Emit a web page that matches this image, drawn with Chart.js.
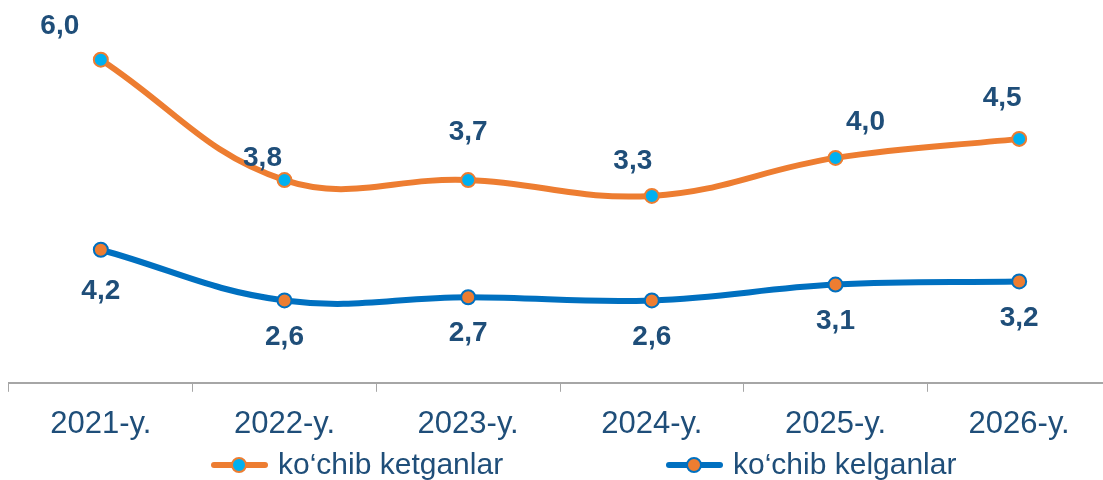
<!DOCTYPE html>
<html>
<head>
<meta charset="utf-8">
<script src="https://cdn.jsdelivr.net/npm/chart.js@4/dist/chart.umd.min.js"></script>
<style>
  html, body { margin: 0; padding: 0; background: #fff; overflow: hidden; }
  #clip { width: 1103px; height: 480px; overflow: hidden; position: relative; }
  #lineChart { display: block; position: absolute; left: 0; top: 0; }
</style>
</head>
<body>
<div id="clip"><canvas id="lineChart" width="1120" height="480" style="width:1120px;height:480px"></canvas></div>
<script>
// カテゴリ
var years = ["2021-y.", "2022-y.", "2023-y.", "2024-y.", "2025-y.", "2026-y."];
// 系列データ（積み上げ）
var kelganlar = [4.2, 2.6, 2.7, 2.6, 3.1, 3.2];
var ketganlar = [6.0, 3.8, 3.7, 3.3, 4.0, 4.5];
var seriesNames = ["ko‘chib ketganlar", "ko‘chib kelganlar"];

var navy = "#1F4E79";
var orange = "#ED7D31";
var blue = "#0070C0";
var cyan = "#00B0F0";

// ラベルのずれ (dx, dy)
var labelShift = {
    0: [[0, 42], [0, 37], [0, 36], [0, 37], [0, 37], [0, 37]],
    1: [[-41, -33], [-22, -22], [0, -48], [-19, -35], [30, -36], [-17, -41]]
};

// データラベルを描く
var valueLabels = {
    id: "valueLabels",
    afterDatasetsDraw: function (chart) {
        var ctx = chart.ctx;
        ctx.save();
        ctx.font = "bold 28px 'Liberation Sans', Arial, sans-serif";
        ctx.fillStyle = navy;
        ctx.textAlign = "center";
        ctx.textBaseline = "middle";
        chart.data.datasets.forEach(function (ds, i) {
            chart.getDatasetMeta(i).data.forEach(function (pt, j) {
                var s = labelShift[i][j];
                ctx.fillText(ds.data[j].toFixed(1).replace(".", ","), pt.x + s[0], pt.y + s[1]);
            });
        });
        ctx.restore();
    }
};

// 凡例を描く
var lineLegend = {
    id: "lineLegend",
    afterDraw: function (chart) {
        var ctx = chart.ctx;
        var items = [
            { ds: chart.data.datasets[1], x: 211 },
            { ds: chart.data.datasets[0], x: 666 }
        ];
        var y = 465;
        ctx.save();
        items.forEach(function (it) {
            ctx.strokeStyle = it.ds.borderColor;
            ctx.lineWidth = 6;
            ctx.lineCap = "round";
            ctx.beginPath();
            ctx.moveTo(it.x + 3, y);
            ctx.lineTo(it.x + 54, y);
            ctx.stroke();
            ctx.beginPath();
            ctx.arc(it.x + 28, y, 7, 0, Math.PI * 2);
            ctx.fillStyle = it.ds.pointBackgroundColor;
            ctx.fill();
            ctx.lineWidth = 2;
            ctx.strokeStyle = it.ds.pointBorderColor;
            ctx.stroke();
            ctx.font = "30px 'Liberation Sans', Arial, sans-serif";
            ctx.fillStyle = navy;
            ctx.textAlign = "left";
            ctx.textBaseline = "middle";
            ctx.fillText(it.ds.label, it.x + 67, y + 1);
        });
        ctx.restore();
    }
};

var ctx1 = document.getElementById("lineChart");
var myChart = new Chart(ctx1, {
    type: "line",
    data: {
        labels: years,
        datasets: [
            {
                label: seriesNames[1],
                data: kelganlar,
                borderColor: blue,
                borderWidth: 6,
                pointBackgroundColor: orange,
                pointBorderColor: blue,
                pointBorderWidth: 2,
                pointRadius: 7,
                tension: 0.4,
                fill: false
            },
            {
                label: seriesNames[0],
                data: ketganlar,
                borderColor: orange,
                borderWidth: 6,
                pointBackgroundColor: cyan,
                pointBorderColor: orange,
                pointBorderWidth: 2,
                pointRadius: 7,
                tension: 0.4,
                fill: false
            }
        ]
    },
    options: {
        responsive: false,
        animation: false,
        layout: { padding: { left: 9, right: 0, top: 1, bottom: 23 } },
        plugins: {
            legend: { display: false },
            tooltip: { enabled: false }
        },
        scales: {
            x: {
                offset: true,
                grid: {
                    offset: true,
                    drawOnChartArea: false,
                    drawTicks: true,
                    tickLength: 9,
                    color: "#A6A6A6"
                },
                border: { color: "#A6A6A6", width: 2 },
                ticks: {
                    color: navy,
                    padding: 14,
                    maxRotation: 0,
                    font: { family: "'Liberation Sans', Arial, sans-serif", size: 31 }
                }
            },
            y: {
                display: false,
                stacked: true,
                min: 0,
                max: 11.8
            }
        }
    },
    plugins: [valueLabels, lineLegend]
});
</script>
</body>
</html>
